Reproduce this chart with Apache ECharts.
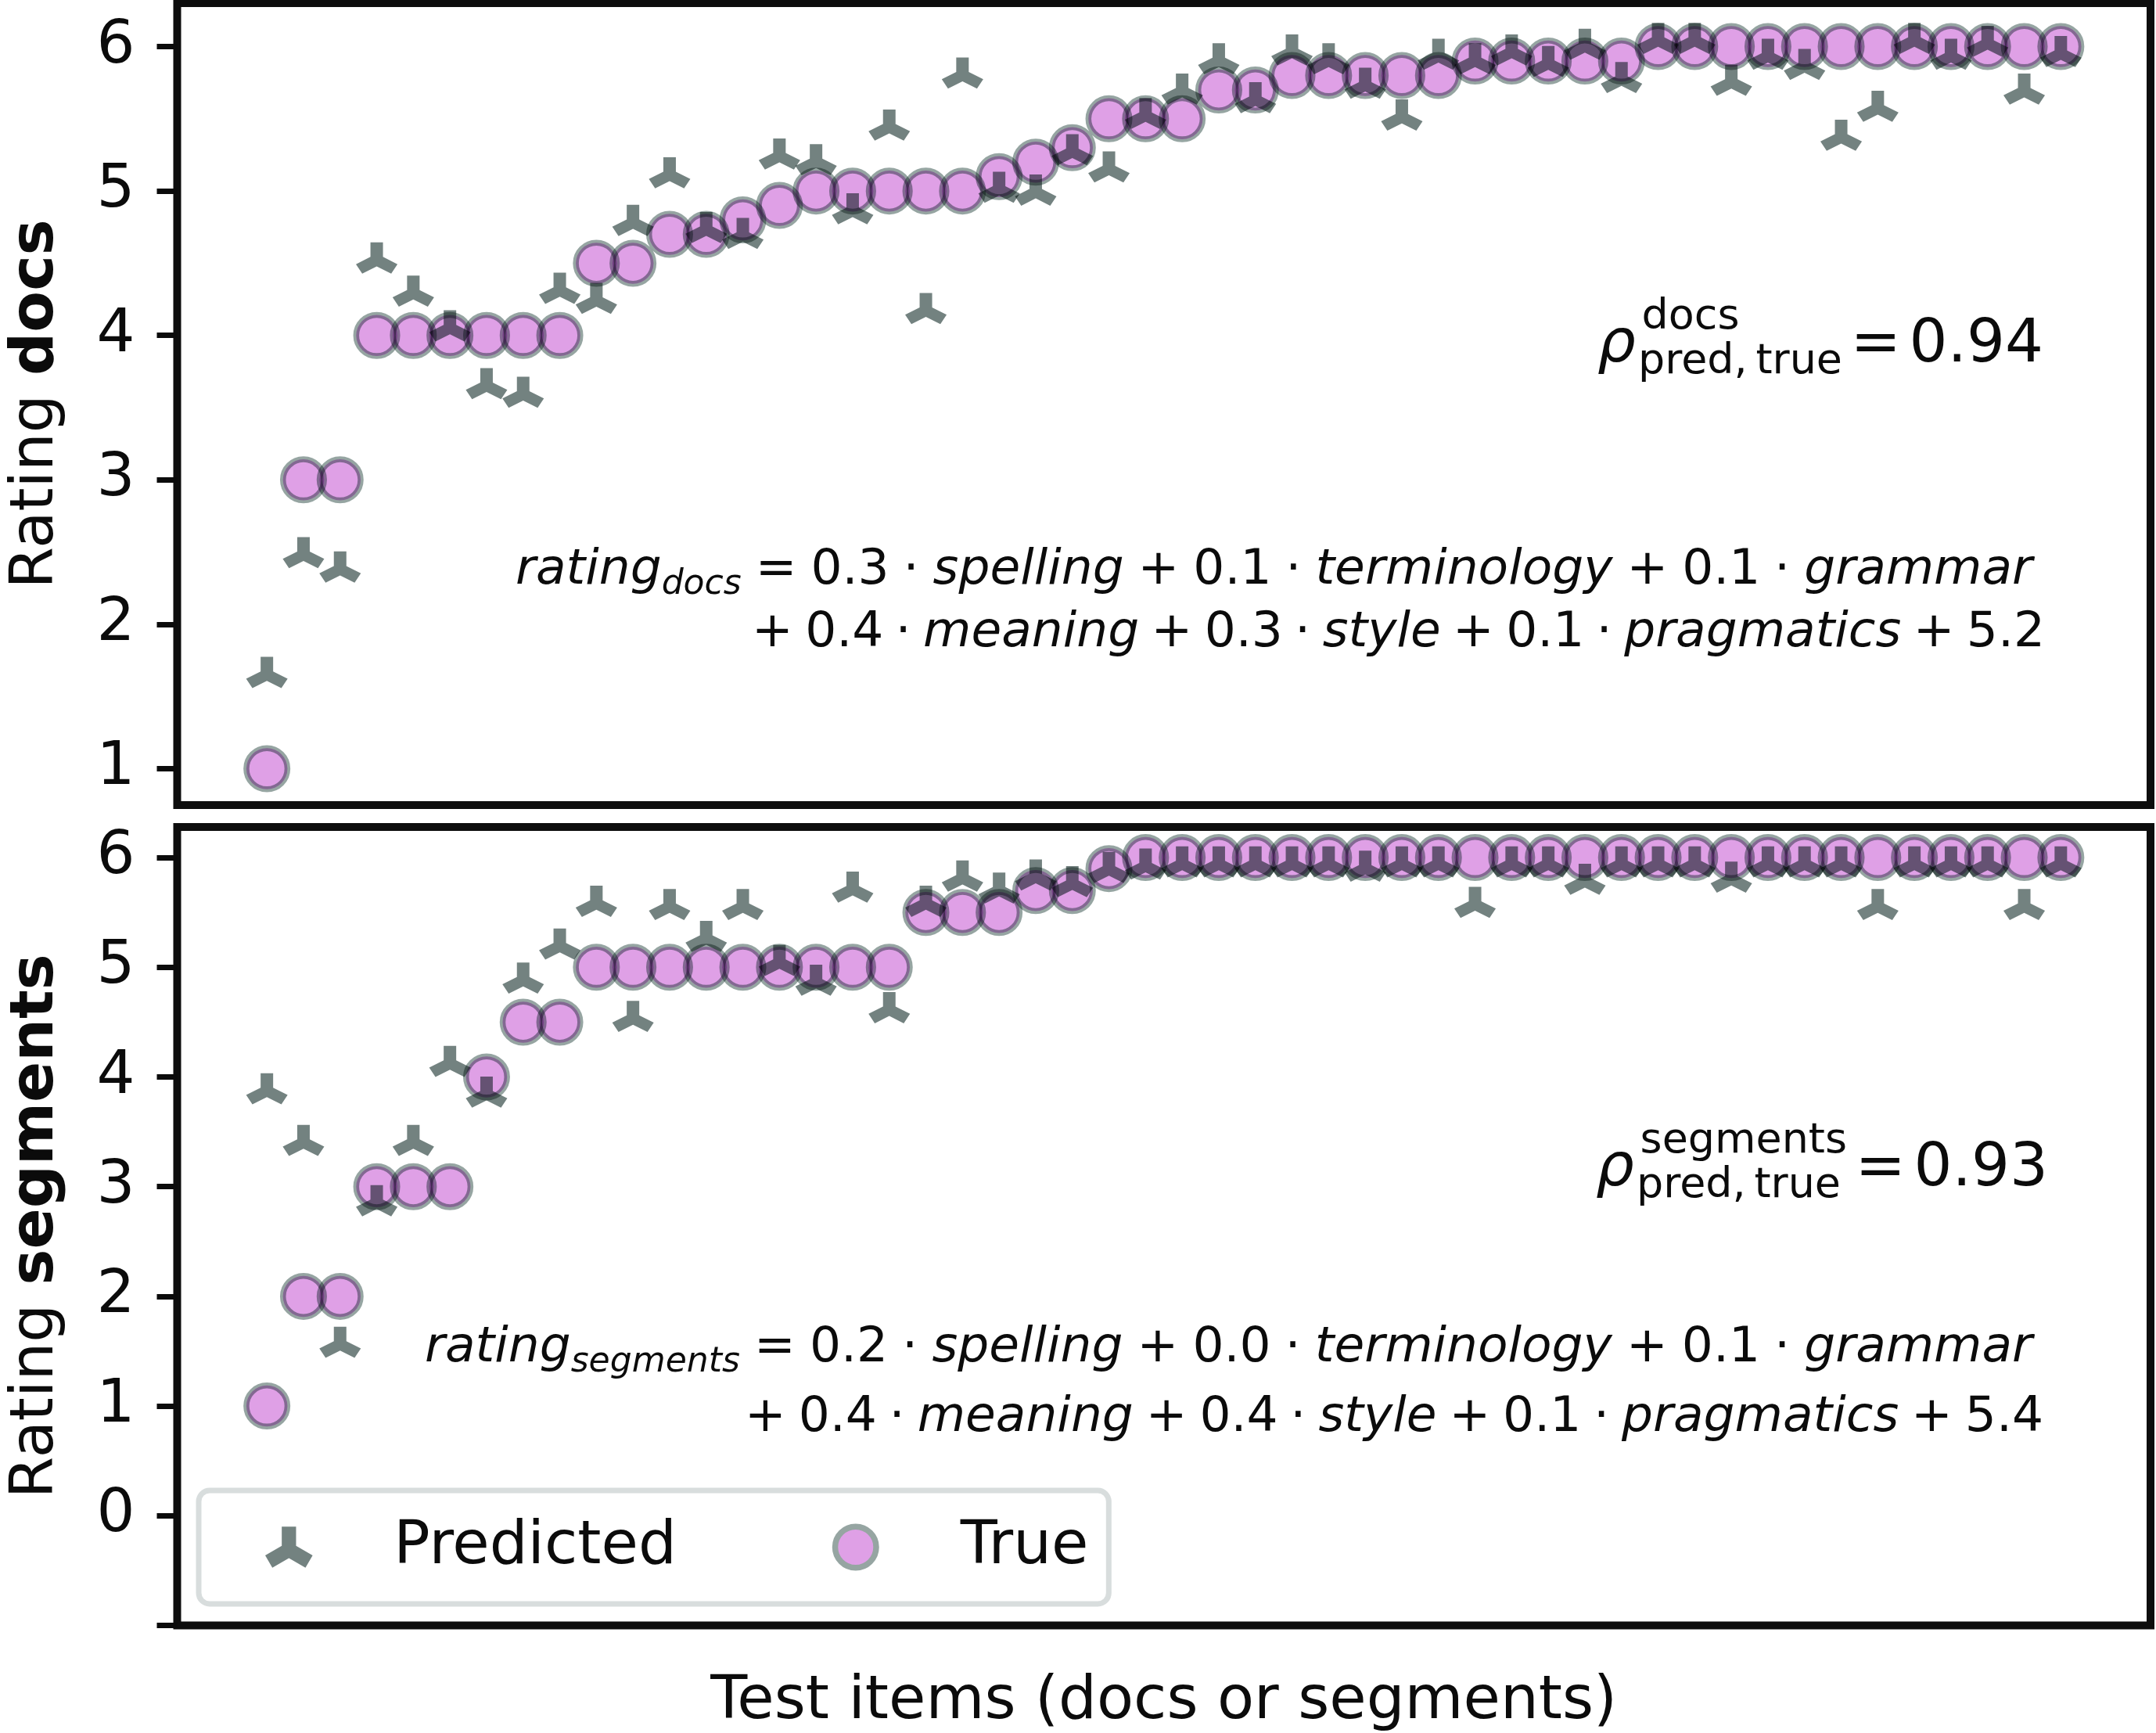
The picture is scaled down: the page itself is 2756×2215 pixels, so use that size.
<!DOCTYPE html>
<html><head><meta charset="utf-8">
<script src="https://cdn.jsdelivr.net/npm/echarts@6/dist/echarts.min.js"></script>
<style>html,body{margin:0;padding:0;background:#fff}#c{width:2756px;height:2215px}</style>
</head><body><div id="c"></div>
<script>
// ---------------- data ----------------
const itemIdx = [0,1,2,3,4,5,6,7,8,9,10,11,12,13,14,15,16,17,18,19,20,21,22,23,24,25,26,27,28,29,30,31,32,33,34,35,36,37,38,39,40,41,42,43,44,45,46,47,48,49];
const docsTrue = [1.0,3.0,3.0,4.0,4.0,4.0,4.0,4.0,4.0,4.5,4.5,4.7,4.7,4.8,4.9,5.0,5.0,5.0,5.0,5.0,5.1,5.2,5.3,5.5,5.5,5.5,5.7,5.7,5.8,5.8,5.8,5.8,5.8,5.9,5.9,5.9,5.9,5.9,6.0,6.0,6.0,6.0,6.0,6.0,6.0,6.0,6.0,6.0,6.0,6.0];
const docsPred = [1.65,2.48,2.38,4.52,4.29,4.05,3.65,3.59,4.31,4.24,4.78,5.11,4.73,4.69,5.24,5.20,4.86,5.44,4.17,5.80,5.01,4.99,5.27,5.15,5.52,5.69,5.90,5.63,5.96,5.90,5.73,5.51,5.93,5.90,5.96,5.88,6.00,5.77,6.04,6.04,5.75,5.93,5.86,5.37,5.57,6.04,5.93,6.02,5.69,5.95];
const segTrue = [1.0,2.0,2.0,3.0,3.0,3.0,4.0,4.5,4.5,5.0,5.0,5.0,5.0,5.0,5.0,5.0,5.0,5.0,5.5,5.5,5.5,5.7,5.7,5.9,6.0,6.0,6.0,6.0,6.0,6.0,6.0,6.0,6.0,6.0,6.0,6.0,6.0,6.0,6.0,6.0,6.0,6.0,6.0,6.0,6.0,6.0,6.0,6.0,6.0,6.0];
const segPred = [3.87,3.40,1.56,2.85,3.40,4.12,3.84,4.88,5.19,5.58,4.53,5.55,5.26,5.55,5.04,4.86,5.71,4.61,5.58,5.81,5.70,5.82,5.76,5.89,5.92,5.94,5.94,5.94,5.94,5.94,5.90,5.94,5.94,5.57,5.94,5.94,5.78,5.94,5.94,5.94,5.80,5.94,5.94,5.94,5.55,5.94,5.94,5.94,5.55,5.94];
const docsTicks = [1,2,3,4,5,6];
const segTicks = [-1,0,1,2,3,4,5,6];
const segTickLabels = [0,1,2,3,4,5,6];
const features = ['spelling','terminology','grammar','meaning','style','pragmatics'];
const docsCoefs = ['0.3','0.1','0.1','0.4','0.3','0.1'];
const docsIntercept = '5.2';
const segCoefs = ['0.2','0.0','0.1','0.4','0.4','0.1'];
const segIntercept = '5.4';
const rhoDocs = '0.94';
const rhoSeg = '0.93';
const seriesNames = ['Predicted','True'];

// ---------------- style / layout ----------------
const FF = '"DejaVu Sans"';
const TXT = '#0b0b0b';
const GL = 218, GR = 2749;
const G0 = {top: 4, bottom: 1029};
const G1 = {top: 1057, bottom: 2085};
const TRI = 'path://M-8,-26L8,-26L8,-4.62L26.52,6.07L18.52,19.93L0,9.24L-18.52,19.93L-26.52,6.07L-8,-4.62Z';

const mctx = document.createElement('canvas').getContext('2d');
function fontStr(sz, it, bold){ return (it?'italic':'normal') + ' ' + (bold?'bold':'normal') + ' ' + sz + 'px ' + FF; }
function tw(t, f){ mctx.font = f; return mctx.measureText(t).width; }
function midOff(f, sz){
  try {
    mctx.font = f; mctx.textBaseline = 'alphabetic';
    const a = mctx.measureText('x').fontBoundingBoxAscent;
    mctx.textBaseline = 'middle';
    const b = mctx.measureText('x').fontBoundingBoxAscent;
    mctx.textBaseline = 'alphabetic';
    if (isFinite(a) && isFinite(b)) return a - b;
  } catch(e) {}
  return 0.3 * sz;
}

function layoutLine(groups, F, left, right, baseline){
  const gs = groups.map(g => {
    let cursor = 0, prevBase = 0;
    const pieces = g.map(p => {
      const sz = F * (p.s || 1);
      const f = fontStr(sz, p.it, false);
      const w = tw(p.t, f);
      const base = p.ov ? prevBase : cursor;
      const x = base + (p.dx || 0) * F;
      cursor = Math.max(cursor, x + w);
      prevBase = base;
      return {t: p.t, f, sz, x, dy: (p.dy || 0) * F};
    });
    return {pieces, w: cursor};
  });
  const natural = gs.reduce((s, g) => s + g.w, 0);
  const nGap = gs.length - 1;
  const gap = Math.max(0.08 * F, (right - left - natural) / nGap);
  const els = [];
  let x = left;
  gs.forEach(g => {
    g.pieces.forEach(p => {
      els.push({type:'text', silent:true, x: x + p.x, y: baseline + p.dy - midOff(p.f, p.sz), z: 50,
        style:{text:p.t, font:p.f, fill:TXT, align:'left', verticalAlign:'middle', textAlign:'left', textVerticalAlign:'middle'}});
    });
    x += g.w + gap;
  });
  return els;
}

const DOT = '\u22C5';
function formulaLines(sub, coefs, intercept){
  const l1 = [[{t:'rating', it:true}, {t:sub, it:true, s:0.7, dy:0.2}], [{t:'='}],
    [{t:coefs[0]}], [{t:DOT}], [{t:features[0], it:true}], [{t:'+'}],
    [{t:coefs[1]}], [{t:DOT}], [{t:features[1], it:true}], [{t:'+'}],
    [{t:coefs[2]}], [{t:DOT}], [{t:features[2], it:true}]];
  const l2 = [[{t:'+'}], [{t:coefs[3]}], [{t:DOT}], [{t:features[3], it:true}], [{t:'+'}],
    [{t:coefs[4]}], [{t:DOT}], [{t:features[4], it:true}], [{t:'+'}],
    [{t:coefs[5]}], [{t:DOT}], [{t:features[5], it:true}], [{t:'+'}], [{t:intercept}]];
  return [l1, l2];
}
function rhoLine(sup, val){
  return [[{t:'\u03C1', it:true}, {t:sup, s:0.7, dy:-0.54, dx:0.1}, {t:'pred,\u2009true', s:0.7, dy:0.2, dx:0.04, ov:true}],
          [{t:'='}], [{t:val}]];
}

const FM = 63, FR = 77, FT = 77;
const [d1, d2] = formulaLines('docs', docsCoefs, docsIntercept);
const [s1, s2] = formulaLines('segments', segCoefs, segIntercept);
const graphics = [].concat(
  layoutLine(rhoLine('docs', rhoDocs), FR, 2042, 2612, 462),
  layoutLine(d1, FM, 659, 2598, 746),
  layoutLine(d2, FM, 961, 2614, 826),
  layoutLine(rhoLine('segments', rhoSeg), FR, 2040, 2618, 1515),
  layoutLine(s1, FM, 543, 2598, 1740),
  layoutLine(s2, FM, 952, 2612, 1829)
);

const mo77 = midOff(fontStr(FT, false, false), FT);
const yNameGap = GL - (58 + FT / 2 - mo77);
const xNameGap = 2203 - G1.bottom - FT / 2 - mo77;

function yAxis(gi, min, max, ticks, labels, rich){
  return {
    type:'value', gridIndex: gi, min, max, position:'left',
    splitLine:{show:false},
    axisLine:{show:false, onZero:false},
    axisTick:{show:true, inside:false, length:26, customValues: ticks, lineStyle:{color:TXT, width:7}},
    axisLabel:{show:true, customValues: labels, fontSize:FT, fontFamily:FF, color:TXT, margin:54},
    name: rich, nameLocation:'middle', nameRotate:90, nameGap: yNameGap,
    nameTextStyle:{fontSize:FT, fontFamily:FF, color:TXT,
      rich:{n:{fontSize:FT, fontFamily:FF, color:TXT}, b:{fontSize:FT, fontFamily:FF, color:TXT, fontWeight:'bold'}}}
  };
}
function xAxis(gi, name){
  return {
    type:'value', gridIndex: gi, min:-2.45, max:51.45, position:'bottom',
    splitLine:{show:false}, axisLine:{show:false, onZero:false}, axisTick:{show:false}, axisLabel:{show:false},
    name: name || '', nameLocation:'middle', nameGap: xNameGap,
    nameTextStyle:{fontSize:FT, fontFamily:FF, color:TXT}
  };
}
const pairs = arr => arr.map((v, i) => [itemIdx[i], v]);
function trueSeries(arr, gi){
  return {type:'scatter', name:seriesNames[1], xAxisIndex:gi, yAxisIndex:gi, data:pairs(arr),
    symbol:'circle', symbolSize:52.5, blendMode:'multiply', silent:true, z:2,
    itemStyle:{color:'#dfa0e6', borderColor:'#96a5a2', borderWidth:7.5, opacity:1}};
}
function predSeries(arr, gi){
  return {type:'scatter', name:seriesNames[0], xAxisIndex:gi, yAxisIndex:gi, data:pairs(arr),
    symbol:TRI, symbolSize:[53.04, 45.93], symbolKeepAspect:true, symbolOffset:[0, -3],
    blendMode:'multiply', silent:true, z:3, itemStyle:{color:'#738280', opacity:1}};
}

const chart = echarts.init(document.getElementById('c'), null, {renderer:'canvas'});
chart.setOption({
  backgroundColor:'#ffffff',
  animation:false,
  textStyle:{fontFamily:FF},
  grid:[
    {left:GL, width:GR-GL, top:G0.top, height:G0.bottom-G0.top, show:true, borderColor:'#0d0d0d', borderWidth:10, backgroundColor:'transparent', containLabel:false},
    {left:GL, width:GR-GL, top:G1.top, height:G1.bottom-G1.top, show:true, borderColor:'#0d0d0d', borderWidth:10, backgroundColor:'transparent', containLabel:false}
  ],
  xAxis:[xAxis(0), xAxis(1, 'Test items (docs or segments)')],
  yAxis:[
    yAxis(0, 0.748, 6.301, docsTicks, docsTicks, '{n|Rating }{b|docs}'),
    yAxis(1, -1, 6.279, segTicks, segTickLabels, '{n|Rating }{b|segments}')
  ],
  legend:{
    show:true, left:254, top:1905, orient:'horizontal',
    padding:[34, 26, 34, 85], itemWidth:100, itemHeight:52.5, itemGap:199,
    backgroundColor:'#ffffff', borderColor:'#d8dddd', borderWidth:7, borderRadius:14,
    selectedMode:false,
    textStyle:{fontSize:FT, fontFamily:FF, color:TXT, padding:[0,0,0,79]},
    data:[
      {name:seriesNames[0], icon:TRI},
      {name:seriesNames[1], icon:'circle', itemStyle:{color:'#dfa0e6', borderColor:'#96a5a2', borderWidth:7.5}}
    ]
  },
  series:[trueSeries(docsTrue, 0), predSeries(docsPred, 0), trueSeries(segTrue, 1), predSeries(segPred, 1)],
  graphic: graphics
});
</script>
</body></html>
